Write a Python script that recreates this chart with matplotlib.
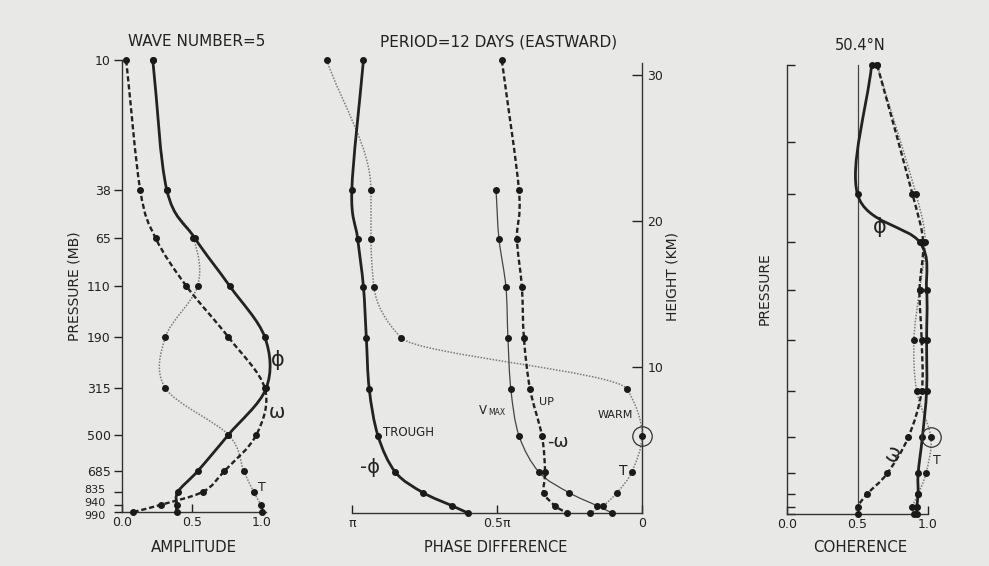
import numpy as np
import matplotlib.pyplot as plt
from matplotlib.path import Path
from matplotlib.patches import PathPatch

W, H = 989, 566
BG = '#e8e8e6'
INK = '#222222'
GREY = '#7a7a7a'

plt.rcParams['font.family'] = ['DejaVu Sans']
plt.rcParams['text.color'] = INK
plt.rcParams['xtick.color'] = INK
plt.rcParams['ytick.color'] = INK

# pressure levels and their heights (km)
pressure_mb = [10, 38, 65, 110, 190, 315, 500, 685, 835, 940, 990]
height_km = [31.0, 22.1, 18.8, 15.5, 12.0, 8.5, 5.3, 2.8, 1.4, 0.5, 0.0]

# amplitude (normalised)
amp_phi = [0.22, 0.32, 0.52, 0.77, 1.02, 1.03, 0.76, 0.54, 0.40, 0.39, 0.39]
amp_omega = [0.03, 0.13, 0.24, 0.46, 0.76, 1.02, 0.96, 0.73, 0.58, 0.28, 0.08]
amp_t = [0.22, 0.32, 0.51, 0.54, 0.31, 0.31, 0.76, 0.87, 0.94, 0.99, 1.00]

# phase difference in units of pi
phase_phi = [0.96, 1.00, 0.98, 0.96, 0.95, 0.94, 0.91, 0.85, 0.755, 0.655, 0.60]
phase_t = [1.086, 0.934, 0.934, 0.924, 0.83, 0.052, 0.0, 0.035, 0.086, 0.134, 0.18]
phase_omega = [0.483, 0.424, 0.431, 0.414, 0.407, 0.386, 0.345, 0.334, 0.338, 0.30, 0.259]
vmax_km = height_km[1:]
phase_vmax = [0.503, 0.493, 0.469, 0.462, 0.452, 0.424, 0.355, 0.252, 0.155, 0.103]

# coherence
coh_phi = [0.60, 0.50, 0.94, 0.99, 0.99, 0.99, 0.96, 0.93, 0.93, 0.92, 0.92]
coh_omega = [0.64, 0.89, 0.965, 0.94, 0.955, 0.955, 0.86, 0.71, 0.57, 0.50, 0.50]
coh_t = [0.64, 0.915, 0.98, 0.94, 0.90, 0.92, 1.02, 0.985, 0.93, 0.89, 0.90]

fig = plt.figure(figsize=(W / 100, H / 100), dpi=100, facecolor=BG)


def make_axes(xlim, ylim, xpx, ypx):
    left = min(xpx) / W
    width = abs(xpx[1] - xpx[0]) / W
    bottom = 1 - ypx[0] / H
    height = (ypx[0] - ypx[1]) / H
    ax = fig.add_axes([left, bottom, width, height])
    ax.set_xlim(*xlim)
    ax.set_ylim(*ylim)
    ax.patch.set_alpha(0)
    for s in ax.spines.values():
        s.set_visible(False)
        s.set_linewidth(1.0)
        s.set_color('#333333')
    return ax


def tangents_cr(pts):
    ext = np.vstack([2 * pts[0] - pts[1], pts, 2 * pts[-1] - pts[-2]])
    return (ext[2:] - ext[:-2]) / 2


def tangents_mono(pts):
    # monotone (Fritsch-Carlson) slopes of x against y, so no overshoot
    X, Y = pts[:, 0], pts[:, 1]
    h = np.diff(Y)
    d = np.diff(X) / h
    m = np.zeros(len(X))
    m[0], m[-1] = d[0], d[-1]
    for k in range(1, len(X) - 1):
        if d[k - 1] * d[k] > 0:
            w1 = 2 * abs(h[k]) + abs(h[k - 1])
            w2 = abs(h[k]) + 2 * abs(h[k - 1])
            m[k] = (w1 + w2) / (w1 / d[k - 1] + w2 / d[k])
    return m


def smooth_path(ax, xs, ys, mono=False):
    pts = ax.transData.transform(np.column_stack([xs, ys]))
    verts = [pts[0]]
    codes = [Path.MOVETO]
    if mono:
        m = tangents_mono(pts)
        for k in range(len(pts) - 1):
            dy = pts[k + 1, 1] - pts[k, 1]
            c1 = [pts[k, 0] + m[k] * dy / 3, pts[k, 1] + dy / 3]
            c2 = [pts[k + 1, 0] - m[k + 1] * dy / 3, pts[k + 1, 1] - dy / 3]
            verts += [c1, c2, pts[k + 1]]
            codes += [Path.CURVE4] * 3
    else:
        t = tangents_cr(pts)
        for k in range(len(pts) - 1):
            verts += [pts[k] + t[k] / 3, pts[k + 1] - t[k + 1] / 3, pts[k + 1]]
            codes += [Path.CURVE4] * 3
    verts = ax.transData.inverted().transform(np.array(verts))
    return Path(verts, codes)


def curve(ax, xs, ys, kind, mono=False):
    if kind == 'phi':
        kw = dict(lw=2.0, ls='-', ec=INK)
    elif kind == 'omega':
        kw = dict(lw=1.7, ls=(0, (2.2, 1.2)), ec=INK)
    elif kind == 'thin':
        kw = dict(lw=0.9, ls='-', ec='#444444')
    else:
        kw = dict(lw=1.1, ls=(0, (1, 1)), ec=GREY)
    ax.add_patch(PathPatch(smooth_path(ax, xs, ys, mono), fill=False,
                           capstyle='butt', clip_on=False, zorder=3, **kw))
    ax.plot(xs, ys, 'o', ms=4, color='#1a1a1a', clip_on=False, zorder=5)


# ---- amplitude ----
ax1 = make_axes((0, 1.2), (0, 31.5), (122, 290), (512, 53.0))
ax1.spines['left'].set_visible(True)
ax1.spines['bottom'].set_visible(True)
ax1.spines['left'].set_bounds(0, 31.0)
ax1.spines['bottom'].set_bounds(0, 1.03)
ylabels = [str(p) for p in pressure_mb]
ylabels[-3:] = ['', '', '']
ax1.set_yticks(height_km, labels=ylabels)
ax1.tick_params(axis='y', direction='out', length=6, width=1, labelsize=9, pad=2)
ax1.set_xticks([0, 0.5, 1.0], labels=['0.0', '0.5', '1.0'])
ax1.tick_params(axis='x', direction='in', length=6, width=1, labelsize=9, pad=3)
# the lowest level labels are stacked tightly, placed by hand
for p, yk in zip(pressure_mb[-3:], [1.5, 0.6, -0.3]):
    ax1.text(-0.12, yk, str(p), fontsize=8, ha='right', va='center')
curve(ax1, amp_t, height_km, 't')
curve(ax1, amp_omega, height_km, 'omega')
curve(ax1, amp_phi, height_km, 'phi')
ax1.text(1.114, 10.4, 'ϕ', fontsize=15, ha='center', va='center')
ax1.text(1.107, 6.8, 'ω', fontsize=14, ha='center', va='center')
ax1.text(1.0, 1.7, 'T', fontsize=9, ha='center', va='center')

# ---- phase difference ----
ax2 = make_axes((1.12, 0), (0, 31.5), (317, 642), (513, 53.1))
ax2.spines['right'].set_visible(True)
ax2.spines['bottom'].set_visible(True)
ax2.spines['right'].set_bounds(0, 30.8)
ax2.spines['bottom'].set_bounds(0, 1.0)
ax2.yaxis.tick_right()
ax2.set_yticks([10, 20, 30], labels=['10', '20', '30'])
ax2.tick_params(axis='y', direction='in', length=7, width=1, labelsize=9, pad=4)
ax2.set_xticks([1.0, 0.5, 0.0], labels=['π', '0.5π', '0'])
ax2.tick_params(axis='x', direction='in', length=6, width=1, labelsize=9, pad=3)
curve(ax2, phase_t, height_km, 't', mono=True)
curve(ax2, phase_vmax, vmax_km, 'thin')
curve(ax2, phase_omega, height_km, 'omega')
curve(ax2, phase_phi, height_km, 'phi')
ax2.plot([phase_t[6]], [height_km[6]], 'o', ms=14, mfc='none', mec='#333333',
         mew=0.9, clip_on=False, zorder=6)
ax2.text(0.893, 5.48, 'TROUGH', fontsize=8.5, ha='left', va='center')
ax2.text(0.938, 3.15, '-ϕ', fontsize=14, ha='center', va='center')
ax2.text(0.548, 7.05, 'V', fontsize=8.5, ha='center', va='center')
ax2.text(0.530, 6.85, 'MAX', fontsize=5.5, ha='left', va='center')
ax2.text(0.328, 7.6, 'UP', fontsize=8, ha='center', va='center')
ax2.text(0.29, 4.86, '-ω', fontsize=13, ha='center', va='center')
ax2.text(0.093, 6.7, 'WARM', fontsize=8, ha='center', va='center')
ax2.text(0.066, 2.9, 'T', fontsize=10, ha='center', va='center')

# ---- coherence ----
ax3 = make_axes((0, 1.15), (0, 31.5), (787, 949.15), (514, 58.2))
ax3.spines['left'].set_visible(True)
ax3.spines['bottom'].set_visible(True)
ax3.spines['left'].set_bounds(0, 31.0)
ax3.spines['bottom'].set_bounds(0, 1.0)
ax3.set_yticks(height_km + [25.7], labels=[''] * (len(height_km) + 1))
ax3.tick_params(axis='y', direction='in', length=6, width=1)
ax3.set_xticks([0, 0.5, 1.0], labels=['0.0', '0.5', '1.0'])
ax3.tick_params(axis='x', direction='in', length=6, width=1, labelsize=9, pad=3)
ax3.plot([0.5, 0.5], [0, 31.0], color='#444444', lw=0.9)
curve(ax3, coh_t, height_km, 't')
curve(ax3, coh_omega, height_km, 'omega')
curve(ax3, coh_phi, height_km, 'phi')
ax3.plot([coh_t[6]], [height_km[6]], 'o', ms=14, mfc='none', mec='#333333',
         mew=0.9, clip_on=False, zorder=6)
ax3.text(0.66, 19.8, 'ϕ', fontsize=15, ha='center', va='center')
ax3.text(0.75, 4.2, 'ω', fontsize=14, ha='center', va='center', rotation=65)
ax3.text(1.064, 3.7, 'T', fontsize=9, ha='center', va='center')


def ftext(x, y, s, **kw):
    fig.text(x / W, 1 - y / H, s, ha='center', va='center', **kw)


ftext(197, 42, 'WAVE NUMBER=5', fontsize=11)
ftext(499, 42, 'PERIOD=12 DAYS (EASTWARD)', fontsize=11)
ftext(860, 45, '50.4°N', fontsize=10.5)
ftext(194, 547, 'AMPLITUDE', fontsize=10.8)
ftext(496, 547, 'PHASE DIFFERENCE', fontsize=10.5)
ftext(860, 547, 'COHERENCE', fontsize=10.8)
ftext(74, 286, 'PRESSURE (MB)', fontsize=10, rotation=90)
ftext(672, 277, 'HEIGHT (KM)', fontsize=10, rotation=90)
ftext(765, 289, 'PRESSURE', fontsize=10, rotation=90)

fig.savefig('out.png', dpi=100, facecolor=BG)
